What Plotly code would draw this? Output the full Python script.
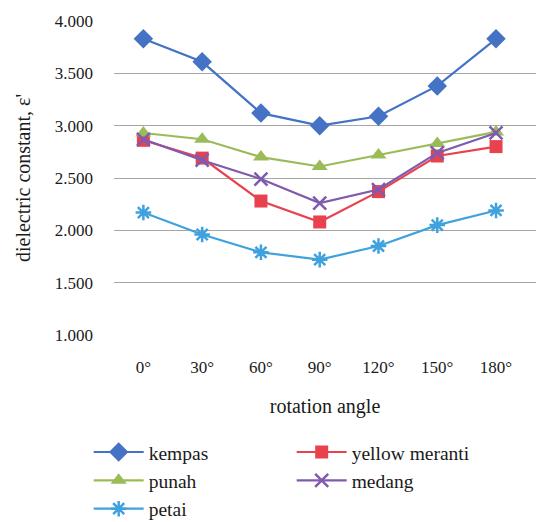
import plotly.graph_objects as go

angles = ["0°", "30°", "60°", "90°", "120°", "150°", "180°"]
kempas = [3.83, 3.61, 3.12, 3.00, 3.09, 3.38, 3.83]
yellow_meranti = [2.86, 2.69, 2.28, 2.08, 2.37, 2.71, 2.80]
punah = [2.93, 2.87, 2.70, 2.61, 2.72, 2.83, 2.94]
medang = [2.87, 2.67, 2.49, 2.26, 2.39, 2.74, 2.93]
petai = [2.17, 1.96, 1.79, 1.72, 1.85, 2.05, 2.19]
y_ticks = [1.0, 1.5, 2.0, 2.5, 3.0, 3.5, 4.0]

FONT = "Liberation Serif"

series = [
    ("kempas", kempas, "#4472C4", dict(symbol="diamond", size=15)),
    ("yellow meranti", yellow_meranti, "#E8424F", dict(symbol="square", size=13)),
    ("punah", punah, "#9BBB59", dict(symbol="triangle-up", size=14)),
    ("medang", medang, "#7F5AAE", dict(symbol="x-thin-open", size=13, line=dict(width=2.5, color="#7F5AAE"))),
    ("petai", petai, "#3FA2DE", dict(symbol="asterisk-open", size=13, line=dict(width=2.5, color="#3FA2DE"))),
]

fig = go.Figure()
for name, vals, color, mk in series:
    marker = dict(color=color)
    marker.update(mk)
    fig.add_trace(go.Scatter(
        x=list(range(len(angles))), y=vals, name=name, mode="lines+markers",
        line=dict(color=color, width=2.2), marker=marker,
    ))

fig.update_layout(
    width=536, height=522,
    margin=dict(l=114, r=0, t=21, b=187, autoexpand=False),
    paper_bgcolor="white", plot_bgcolor="white",
    font=dict(family=FONT, color="#1a1a1a", size=17),
    xaxis=dict(
        tickmode="array", tickvals=list(range(len(angles))), ticktext=angles,
        range=[-0.5, 6.68], showgrid=False, zeroline=False, showline=False,
        ticks="", ticklabelstandoff=20, tickfont=dict(size=17),
        title=dict(text="rotation angle", font=dict(size=20), standoff=22),
    ),
    yaxis=dict(
        range=[1, 4], tickvals=y_ticks, tickformat=".3f",
        showgrid=True, gridcolor="#A6A6A6", gridwidth=1.2,
        zeroline=False, showline=False, ticks="", ticklabelstandoff=20,
        tickfont=dict(size=17),
        title=dict(text="dielectric constant, ε'", font=dict(size=20), standoff=18),
    ),
    legend=dict(
        orientation="h", x=-0.06, xanchor="left", y=-0.3115, yanchor="top",
        entrywidth=138, entrywidthmode="pixels", itemwidth=50,
        font=dict(family=FONT, size=19.5), traceorder="normal",
    ),
    showlegend=True,
)

fig.write_html("out.html")
